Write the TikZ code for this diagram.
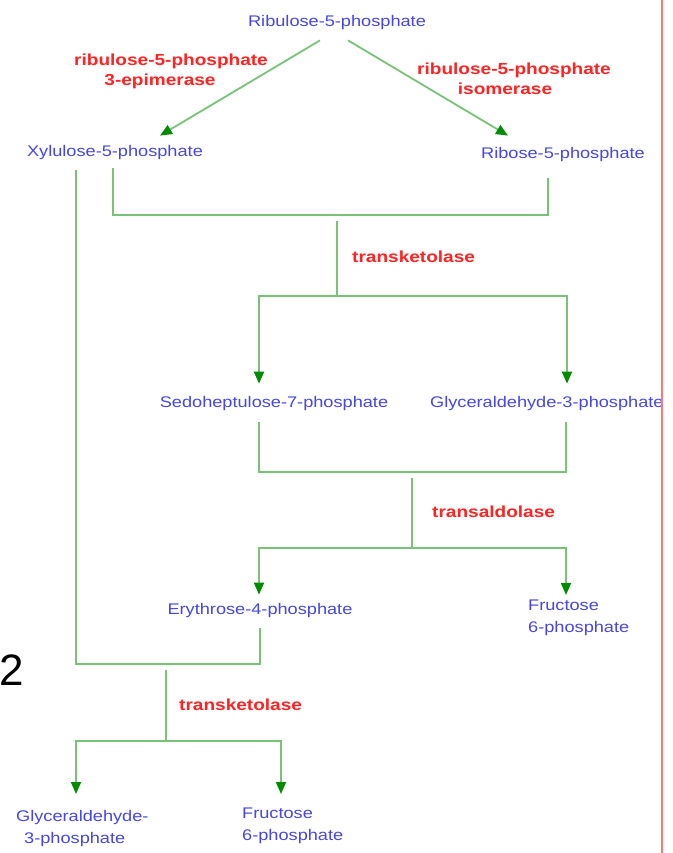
\documentclass[tikz,border=0pt]{standalone}
\usepackage{fontspec}
\setmainfont{Liberation Sans}
\newfontfamily\metfont[FakeStretch=1.18]{Liberation Sans}
\newfontfamily\enzfont[FakeStretch=1.19]{Liberation Sans Bold}
\usetikzlibrary{arrows.meta}
\definecolor{metblue}{RGB}{70,70,235}
\definecolor{enzred}{RGB}{255,35,35}
\definecolor{lgreen}{RGB}{120,195,120}
\definecolor{dgreen}{RGB}{0,140,0}
\definecolor{redline}{RGB}{255,120,120}
\begin{document}
\begin{tikzpicture}[x=1pt,y=-1pt,
  met/.style={text=metblue,font=\metfont\fontsize{15.4}{22}\selectfont,inner sep=0pt},
  enz/.style={text=enzred,font=\enzfont\fontsize{16}{20}\selectfont,inner sep=0pt,align=center},
  link/.style={draw=lgreen,line width=1.8pt},
  flow/.style={link,-{Triangle[width=10pt,length=12pt,color=dgreen]}}]
\useasboundingbox[fill=white] (0,0) rectangle (672,853);
\begin{scope}
\clip (0,0) rectangle (661,853);
% metabolites
\node[met] (ru5p) at (337,23) {Ribulose-5-phosphate};
\node[met] (xu5p) at (115,153) {Xylulose-5-phosphate};
\node[met] (r5p) at (563,155) {Ribose-5-phosphate};
\node[met] (s7p) at (274,404) {Sedoheptulose-7-phosphate};
\node[met,anchor=west] (g3p) at (430,404) {Glyceraldehyde-3-phosphate};
\node[met] (e4p) at (260,611) {Erythrose-4-phosphate};
\node[met,align=left,anchor=north west] (f6p) at (528,600) {Fructose\\6-phosphate};
\node[met,align=left,anchor=north west] (g3pb) at (16,810) {Glyceraldehyde-\\\hspace*{8pt}3-phosphate};
\node[met,align=left,anchor=north west] (f6pb) at (242,808) {Fructose\\6-phosphate};
% enzymes
\node[enz,anchor=north] (epi) at (171,54) {ribulose-5-phosphate\\3-epimerase\hspace*{22pt}};
\node[enz,anchor=north] (iso) at (514,63) {ribulose-5-phosphate\\isomerase\hspace*{18pt}};
\node[enz,anchor=west] (tk1) at (352,257) {transketolase};
\node[enz,anchor=west] (ta) at (432,512) {transaldolase};
\node[enz,anchor=west] (tk2) at (179,705) {transketolase};
% junctions
\coordinate (b1) at (337,215);
\coordinate (b2) at (337,296);
\coordinate (c1) at (412,472);
\coordinate (c2) at (412,548);
\coordinate (d1) at (166,664);
\coordinate (d2) at (166,741);
% connectors
\draw[flow] ([shift={(-17,10)}]ru5p.south) -- ([shift={(45,-10)}]xu5p.north);
\draw[flow] ([shift={(11,10)}]ru5p.south) -- ([shift={(-55,-12)}]r5p.north);
\draw[link] ([shift={(-2,8)}]xu5p.south) |- (b1) -| ([shift={(-15,16)}]r5p.south);
\draw[link] ([yshift=-6pt]b1) -- (b2);
\draw[flow] (b2) -| ([shift={(-15,-13)}]s7p.north);
\draw[flow] (b2) -| ([shift={(137,-13)}]g3p.north west);
\draw[link] ([shift={(-15,11)}]s7p.south) |- (c1) -| ([shift={(136,11)}]g3p.south west);
\draw[link] ([yshift=-6pt]c1) -- (c2);
\draw[flow] (c2) -| ([shift={(-1,-9)}]e4p.north);
\draw[flow] (c2) -| ([shift={(38,-5)}]f6p.north west);
\draw[link] ([shift={(-39,10)}]xu5p.south) |- (d1) -| ([shift={(0,10)}]e4p.south);
\draw[link] ([yshift=-6pt]d1) -- (d2);
\draw[flow] (d2) -| ([shift={(60,-16)}]g3pb.north west);
\draw[flow] (d2) -| ([shift={(39,-14)}]f6pb.north west);
% side number
\node[inner sep=0pt,anchor=west,font=\fontsize{44}{44}\selectfont] (two) at (-1,670) {2};
\end{scope}
\draw[redline,line width=2pt] (662,0) -- (662,853);
\end{tikzpicture}
\end{document}
